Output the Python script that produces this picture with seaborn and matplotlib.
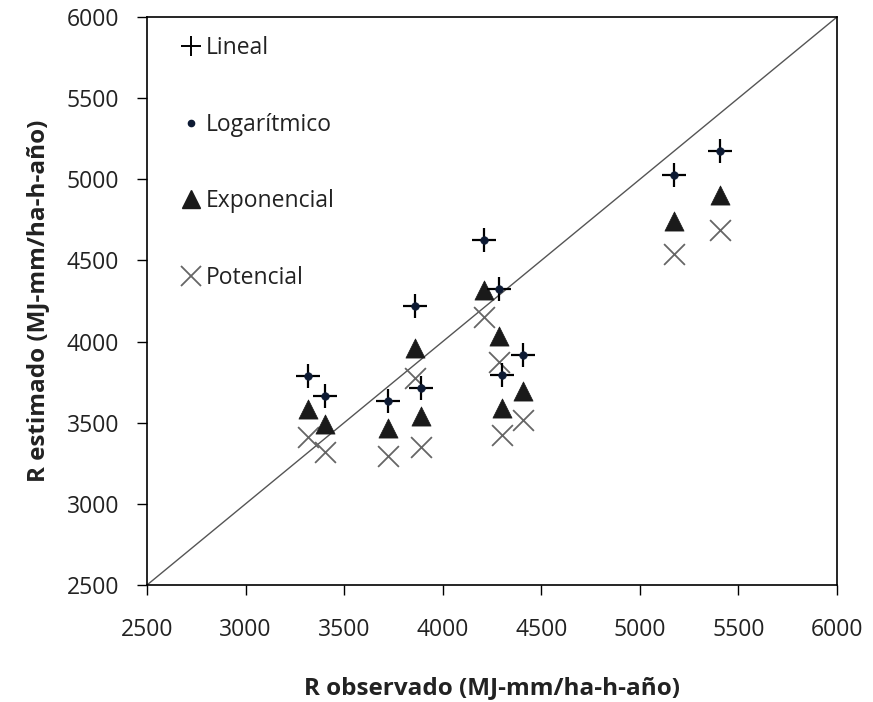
import matplotlib
matplotlib.use("Agg")
import matplotlib.pyplot as plt
import seaborn as sns
import pandas as pd
from matplotlib.lines import Line2D

# Data
r_observado = [3315, 3402, 3723, 3860, 3891, 4207, 4288, 4303, 4405, 5174, 5404]
lineal      = [3790, 3667, 3636, 4222, 3716, 4623, 4321, 3796, 3920, 5025, 5173]
logaritmico = [3790, 3667, 3636, 4222, 3716, 4623, 4321, 3796, 3920, 5025, 5173]
exponencial = [3586, 3494, 3469, 3963, 3543, 4315, 4037, 3593, 3698, 4741, 4901]
potencial   = [3414, 3321, 3296, 3778, 3352, 4154, 3877, 3426, 3519, 4537, 4685]
ticks = [2500, 3000, 3500, 4000, 4500, 5000, 5500, 6000]

sns.set_theme(style="white")
plt.rcParams['font.family'] = ['Open Sans', 'DejaVu Sans']

df = pd.DataFrame({"obs": r_observado, "lin": lineal, "log": logaritmico,
                   "exp": exponencial, "pot": potencial})

fig = plt.figure(figsize=(8.73, 7.02), dpi=100)
ax = fig.add_axes([147/873, 1-585/702, (837-147)/873, (585-17)/702])

ax.plot([2500, 6000], [2500, 6000], color="#555555", lw=1.0, zorder=1)

sns.scatterplot(data=df, x="obs", y="pot", marker="x", s=225, color="#666666",
                linewidth=1.3, ax=ax, zorder=2)
sns.scatterplot(data=df, x="obs", y="exp", marker="^", s=190, color="#1a1a1a",
                edgecolor="#1a1a1a", linewidth=0.5, ax=ax, zorder=3)
sns.scatterplot(data=df, x="obs", y="lin", marker="+", s=310, color="black",
                linewidth=1.6, ax=ax, zorder=4)
sns.scatterplot(data=df, x="obs", y="log", marker="o", s=30, color="#0d1a33",
                edgecolor="#0d1a33", linewidth=0.5, ax=ax, zorder=5)

ax.set_xlim(2500, 6000)
ax.set_ylim(2500, 6000)
ax.set_xticks(ticks)
ax.set_yticks(ticks)
ax.tick_params(axis="both", direction="out", length=7, width=1, colors="black",
               labelsize=16.5, bottom=True, left=True)
ax.tick_params(axis="x", pad=17)
ax.tick_params(axis="y", pad=13)
for lbl in ax.get_xticklabels() + ax.get_yticklabels():
    lbl.set_color("#222222")
for sp in ax.spines.values():
    sp.set_color("black")
    sp.set_linewidth(1.2)

ax.set_xlabel("R observado (MJ-mm/ha-h-año)", fontsize=17.5, fontweight="bold",
              labelpad=24, color="#222222")
ax.set_ylabel("R estimado (MJ-mm/ha-h-año)", fontsize=17.5, fontweight="bold",
              labelpad=12, color="#222222")

handles = [
    Line2D([], [], marker="+", color="black", ls="none", markersize=14, markeredgewidth=1.4),
    Line2D([], [], marker="o", color="#0d1a33", ls="none", markersize=4.5),
    Line2D([], [], marker="^", color="#1a1a1a", ls="none", markersize=13),
    Line2D([], [], marker="x", color="#666666", ls="none", markersize=14, markeredgewidth=1.3),
]
labels = ["Lineal", "Logarítmico", "Exponencial", "Potencial"]
ax.legend(handles, labels, loc="upper left", frameon=False, fontsize=16.5,
          labelspacing=2.3, handletextpad=0.05, handlelength=1.2,
          borderaxespad=0.3, bbox_to_anchor=(0.02, 0.995),
          labelcolor="#222222")

fig.savefig("out.png", dpi=100)
